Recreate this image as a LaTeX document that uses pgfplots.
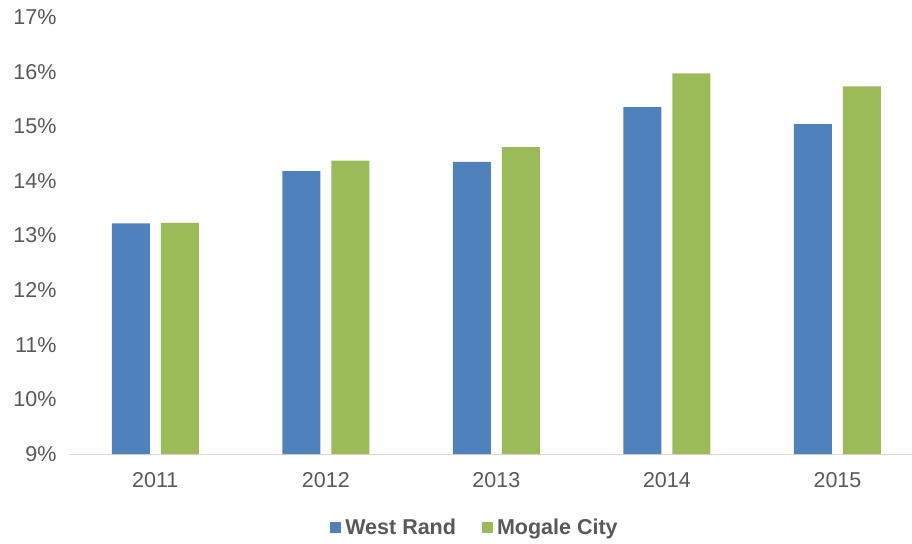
\documentclass[border=0pt]{standalone}
\usepackage{pgfplots}
\pgfplotsset{compat=1.18}
\usepackage{fontspec}
\setmainfont{Liberation Sans}

\definecolor{wrblue}{HTML}{4F81BD}
\definecolor{mcgreen}{HTML}{9BBB59}
\definecolor{txtgray}{HTML}{595959}
\definecolor{axgray}{HTML}{D9D9D9}

\begin{document}
\begin{tikzpicture}
\path[use as bounding box] (-70pt,-89pt) rectangle (842pt,454pt);
\begin{axis}[
    at={(0,0)}, anchor=south west,
    scale only axis,
    width=842pt, height=437pt,
    ybar, bar width=38pt,
    xmin=-0.5, xmax=4.437,
    ymin=9, ymax=17,
    xtick={0,1,2,3,4},
    xticklabels={2011,2012,2013,2014,2015},
    ytick={9,10,...,17},
    yticklabel={\pgfmathprintnumber{\tick}\%},
    /pgf/number format/assume math mode=true,
    axis x line*=bottom,
    axis y line*=left,
    x axis line style={draw=axgray, line width=1pt, -},
    y axis line style={draw=none},
    major tick length=0pt,
    tick label style={font=\fontsize{21.5}{25}\selectfont, text=txtgray},
    xticklabel style={yshift=-15pt},
    yticklabel style={xshift=-10pt},
    legend columns=2,
    legend style={draw=none, at={(0.481,-0.169)}, anchor=center,
        font=\bfseries\fontsize{21.5}{25}\selectfont, text=txtgray,
        /tikz/every even column/.append style={column sep=24pt}},
    legend image code/.code={%
        \fill[#1] (0pt,-5.5pt) rectangle (11pt,5.5pt);
        \path (0pt,0pt) -- (13pt,0pt);},
]
\addplot[fill=wrblue, draw=none, bar shift=-24.5pt] coordinates {
    (0,13.22) (1,14.18) (2,14.35) (3,15.35) (4,15.04)
};
\addlegendentry{West Rand}
\addplot[fill=mcgreen, draw=none, bar shift=24.5pt] coordinates {
    (0,13.23) (1,14.37) (2,14.62) (3,15.97) (4,15.73)
};
\addlegendentry{Mogale City}
\end{axis}
\end{tikzpicture}
\end{document}
